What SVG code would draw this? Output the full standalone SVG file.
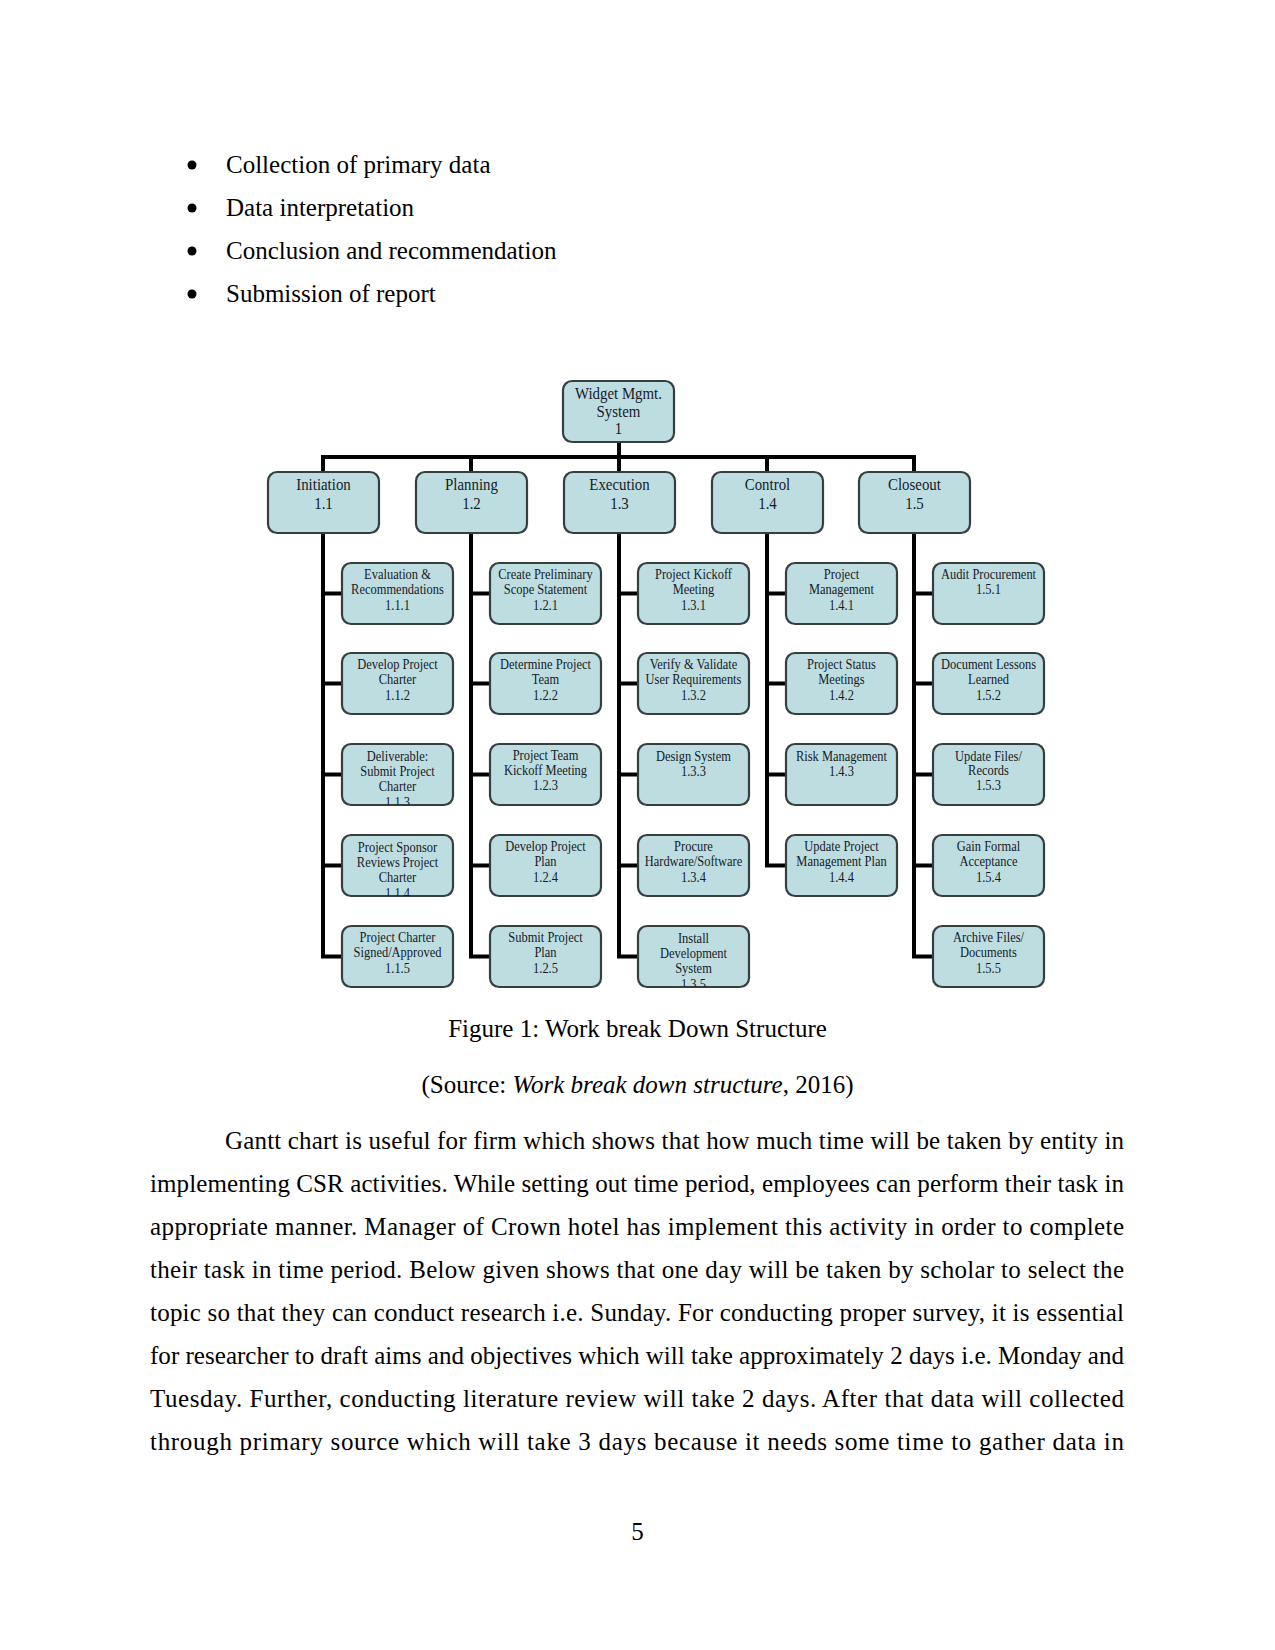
<svg xmlns="http://www.w3.org/2000/svg" width="1275" height="1650" viewBox="0 0 1275 1650">
<style>
.page{font-family:"Liberation Serif","Times New Roman",serif;font-size:25px;fill:#000}
.box{fill:#bddde1;stroke:#363f40;stroke-width:2.2}
.t1{font-family:"Liberation Serif","Times New Roman",serif;font-size:17.5px;fill:#161a26;text-anchor:middle}
.t2{font-family:"Liberation Serif","Times New Roman",serif;font-size:14.5px;fill:#161a26;text-anchor:middle}
.conn{fill:none;stroke:#000;stroke-width:4;stroke-linejoin:miter;stroke-linecap:square}
</style>
<defs>
<clipPath id="c113"><rect x="342" y="744" width="111" height="61" rx="9"/></clipPath>
<clipPath id="c114"><rect x="342" y="835" width="111" height="61" rx="9"/></clipPath>
<clipPath id="c135"><rect x="638" y="926" width="111" height="61" rx="9"/></clipPath>
</defs>
<rect width="1275" height="1650" fill="#fff"/>

<g id="bullets" class="page">
<circle cx="192" cy="165" r="4.5"/><text x="226" y="173">Collection of primary data</text>
<circle cx="192" cy="208" r="4.5"/><text x="226" y="216">Data interpretation</text>
<circle cx="192" cy="251" r="4.5"/><text x="226" y="259">Conclusion and recommendation</text>
<circle cx="192" cy="294" r="4.5"/><text x="226" y="302">Submission of report</text>
</g>

<g id="connectors" class="conn">
<path d="M619 442 V457 M323 472 V457 H914 V472 M471 457 V472 M619 457 V472 M767 457 V472"/>
<path d="M323 533 V956.5 H342 M323 593.5 H342 M323 683.5 H342 M323 774.5 H342 M323 865.5 H342"/>
<path d="M471 533 V956.5 H490 M471 593.5 H490 M471 683.5 H490 M471 774.5 H490 M471 865.5 H490"/>
<path d="M619 533 V956.5 H638 M619 593.5 H638 M619 683.5 H638 M619 774.5 H638 M619 865.5 H638"/>
<path d="M767 533 V865.5 H786 M767 593.5 H786 M767 683.5 H786 M767 774.5 H786"/>
<path d="M914 533 V956.5 H933 M914 593.5 H933 M914 683.5 H933 M914 774.5 H933 M914 865.5 H933"/>
</g>

<g id="n1"><rect class="box" x="563" y="381" width="111" height="61" rx="9"/>
<g transform="matrix(0.85 0 0 1 92.775 0)"><text class="t1" x="618.5" y="399">Widget Mgmt.</text><text class="t1" x="618.5" y="417">System</text><text class="t1" x="618.5" y="434">1</text></g></g>

<g id="n1_1"><rect class="box" x="268" y="472" width="111" height="61" rx="9"/><g transform="matrix(0.85 0 0 1 48.525 0)"><text class="t1" x="323.5" y="490">Initiation</text><text class="t1" x="323.5" y="509">1.1</text></g></g>
<g id="n1_2"><rect class="box" x="416" y="472" width="111" height="61" rx="9"/><g transform="matrix(0.85 0 0 1 70.725 0)"><text class="t1" x="471.5" y="490">Planning</text><text class="t1" x="471.5" y="509">1.2</text></g></g>
<g id="n1_3"><rect class="box" x="564" y="472" width="111" height="61" rx="9"/><g transform="matrix(0.85 0 0 1 92.925 0)"><text class="t1" x="619.5" y="490">Execution</text><text class="t1" x="619.5" y="509">1.3</text></g></g>
<g id="n1_4"><rect class="box" x="712" y="472" width="111" height="61" rx="9"/><g transform="matrix(0.85 0 0 1 115.125 0)"><text class="t1" x="767.5" y="490">Control</text><text class="t1" x="767.5" y="509">1.4</text></g></g>
<g id="n1_5"><rect class="box" x="859" y="472" width="111" height="61" rx="9"/><g transform="matrix(0.85 0 0 1 137.175 0)"><text class="t1" x="914.5" y="490">Closeout</text><text class="t1" x="914.5" y="509">1.5</text></g></g>

<g id="n1_1_1"><rect class="box" x="342" y="563" width="111" height="61" rx="9"/><g transform="matrix(0.86 0 0 1 55.65 0)"><text class="t2" x="397.5" y="579">Evaluation &amp;</text><text class="t2" x="397.5" y="594.5">Recommendations</text><text class="t2" x="397.5" y="610">1.1.1</text></g></g>
<g id="n1_1_2"><rect class="box" x="342" y="653" width="111" height="61" rx="9"/><g transform="matrix(0.86 0 0 1 55.65 0)"><text class="t2" x="397.5" y="669">Develop Project</text><text class="t2" x="397.5" y="684.5">Charter</text><text class="t2" x="397.5" y="700">1.1.2</text></g></g>
<g id="n1_1_3"><rect class="box" x="342" y="744" width="111" height="61" rx="9"/><g clip-path="url(#c113)"><g transform="matrix(0.86 0 0 1 55.65 0)"><text class="t2" x="397.5" y="761">Deliverable:</text><text class="t2" x="397.5" y="776">Submit Project</text><text class="t2" x="397.5" y="791">Charter</text><text class="t2" x="397.5" y="807">1.1.3</text></g></g></g>
<g id="n1_1_4"><rect class="box" x="342" y="835" width="111" height="61" rx="9"/><g clip-path="url(#c114)"><g transform="matrix(0.86 0 0 1 55.65 0)"><text class="t2" x="397.5" y="852">Project Sponsor</text><text class="t2" x="397.5" y="867">Reviews Project</text><text class="t2" x="397.5" y="882">Charter</text><text class="t2" x="397.5" y="898">1.1.4</text></g></g></g>
<g id="n1_1_5"><rect class="box" x="342" y="926" width="111" height="61" rx="9"/><g transform="matrix(0.86 0 0 1 55.65 0)"><text class="t2" x="397.5" y="942">Project Charter</text><text class="t2" x="397.5" y="957.5">Signed/Approved</text><text class="t2" x="397.5" y="973">1.1.5</text></g></g>

<g id="n1_2_1"><rect class="box" x="490" y="563" width="111" height="61" rx="9"/><g transform="matrix(0.86 0 0 1 76.37 0)"><text class="t2" x="545.5" y="579">Create Preliminary</text><text class="t2" x="545.5" y="594.5">Scope Statement</text><text class="t2" x="545.5" y="610">1.2.1</text></g></g>
<g id="n1_2_2"><rect class="box" x="490" y="653" width="111" height="61" rx="9"/><g transform="matrix(0.86 0 0 1 76.37 0)"><text class="t2" x="545.5" y="669">Determine Project</text><text class="t2" x="545.5" y="684.5">Team</text><text class="t2" x="545.5" y="700">1.2.2</text></g></g>
<g id="n1_2_3"><rect class="box" x="490" y="744" width="111" height="61" rx="9"/><g transform="matrix(0.86 0 0 1 76.37 0)"><text class="t2" x="545.5" y="760">Project Team</text><text class="t2" x="545.5" y="775">Kickoff Meeting</text><text class="t2" x="545.5" y="790.5">1.2.3</text></g></g>
<g id="n1_2_4"><rect class="box" x="490" y="835" width="111" height="61" rx="9"/><g transform="matrix(0.86 0 0 1 76.37 0)"><text class="t2" x="545.5" y="851">Develop Project</text><text class="t2" x="545.5" y="866.5">Plan</text><text class="t2" x="545.5" y="882">1.2.4</text></g></g>
<g id="n1_2_5"><rect class="box" x="490" y="926" width="111" height="61" rx="9"/><g transform="matrix(0.86 0 0 1 76.37 0)"><text class="t2" x="545.5" y="942">Submit Project</text><text class="t2" x="545.5" y="957.5">Plan</text><text class="t2" x="545.5" y="973">1.2.5</text></g></g>

<g id="n1_3_1"><rect class="box" x="638" y="563" width="111" height="61" rx="9"/><g transform="matrix(0.86 0 0 1 97.09 0)"><text class="t2" x="693.5" y="579">Project Kickoff</text><text class="t2" x="693.5" y="594.5">Meeting</text><text class="t2" x="693.5" y="610">1.3.1</text></g></g>
<g id="n1_3_2"><rect class="box" x="638" y="653" width="111" height="61" rx="9"/><g transform="matrix(0.86 0 0 1 97.09 0)"><text class="t2" x="693.5" y="669">Verify &amp; Validate</text><text class="t2" x="693.5" y="684.5">User Requirements</text><text class="t2" x="693.5" y="700">1.3.2</text></g></g>
<g id="n1_3_3"><rect class="box" x="638" y="744" width="111" height="61" rx="9"/><g transform="matrix(0.86 0 0 1 97.09 0)"><text class="t2" x="693.5" y="761">Design System</text><text class="t2" x="693.5" y="776.5">1.3.3</text></g></g>
<g id="n1_3_4"><rect class="box" x="638" y="835" width="111" height="61" rx="9"/><g transform="matrix(0.86 0 0 1 97.09 0)"><text class="t2" x="693.5" y="851">Procure</text><text class="t2" x="693.5" y="866.5">Hardware/Software</text><text class="t2" x="693.5" y="882">1.3.4</text></g></g>
<g id="n1_3_5"><rect class="box" x="638" y="926" width="111" height="61" rx="9"/><g clip-path="url(#c135)"><g transform="matrix(0.86 0 0 1 97.09 0)"><text class="t2" x="693.5" y="943">Install</text><text class="t2" x="693.5" y="958">Development</text><text class="t2" x="693.5" y="973">System</text><text class="t2" x="693.5" y="989">1.3.5</text></g></g></g>

<g id="n1_4_1"><rect class="box" x="786" y="563" width="111" height="61" rx="9"/><g transform="matrix(0.86 0 0 1 117.81 0)"><text class="t2" x="841.5" y="579">Project</text><text class="t2" x="841.5" y="594.5">Management</text><text class="t2" x="841.5" y="610">1.4.1</text></g></g>
<g id="n1_4_2"><rect class="box" x="786" y="653" width="111" height="61" rx="9"/><g transform="matrix(0.86 0 0 1 117.81 0)"><text class="t2" x="841.5" y="669">Project Status</text><text class="t2" x="841.5" y="684.5">Meetings</text><text class="t2" x="841.5" y="700">1.4.2</text></g></g>
<g id="n1_4_3"><rect class="box" x="786" y="744" width="111" height="61" rx="9"/><g transform="matrix(0.86 0 0 1 117.81 0)"><text class="t2" x="841.5" y="761">Risk Management</text><text class="t2" x="841.5" y="776.5">1.4.3</text></g></g>
<g id="n1_4_4"><rect class="box" x="786" y="835" width="111" height="61" rx="9"/><g transform="matrix(0.86 0 0 1 117.81 0)"><text class="t2" x="841.5" y="851">Update Project</text><text class="t2" x="841.5" y="866.5">Management Plan</text><text class="t2" x="841.5" y="882">1.4.4</text></g></g>

<g id="n1_5_1"><rect class="box" x="933" y="563" width="111" height="61" rx="9"/><g transform="matrix(0.86 0 0 1 138.39 0)"><text class="t2" x="988.5" y="579">Audit Procurement</text><text class="t2" x="988.5" y="594.5">1.5.1</text></g></g>
<g id="n1_5_2"><rect class="box" x="933" y="653" width="111" height="61" rx="9"/><g transform="matrix(0.86 0 0 1 138.39 0)"><text class="t2" x="988.5" y="669">Document Lessons</text><text class="t2" x="988.5" y="684.5">Learned</text><text class="t2" x="988.5" y="700">1.5.2</text></g></g>
<g id="n1_5_3"><rect class="box" x="933" y="744" width="111" height="61" rx="9"/><g transform="matrix(0.86 0 0 1 138.39 0)"><text class="t2" x="988.5" y="761">Update Files/</text><text class="t2" x="988.5" y="775">Records</text><text class="t2" x="988.5" y="790">1.5.3</text></g></g>
<g id="n1_5_4"><rect class="box" x="933" y="835" width="111" height="61" rx="9"/><g transform="matrix(0.86 0 0 1 138.39 0)"><text class="t2" x="988.5" y="851">Gain Formal</text><text class="t2" x="988.5" y="866.5">Acceptance</text><text class="t2" x="988.5" y="882">1.5.4</text></g></g>
<g id="n1_5_5"><rect class="box" x="933" y="926" width="111" height="61" rx="9"/><g transform="matrix(0.86 0 0 1 138.39 0)"><text class="t2" x="988.5" y="942">Archive Files/</text><text class="t2" x="988.5" y="957.5">Documents</text><text class="t2" x="988.5" y="973">1.5.5</text></g></g>

<g id="caption" class="page" text-anchor="middle">
<text x="637.5" y="1037">Figure 1: Work break Down Structure</text>
<text x="637.5" y="1093">(Source: <tspan font-style="italic">Work break down structure</tspan>, 2016)</text>
</g>

<g id="paragraph" class="page">
<text x="225" y="1149" textLength="899" lengthAdjust="spacing">Gantt chart is useful for firm which shows that how much time will be taken by entity in</text>
<text x="150" y="1192" textLength="974" lengthAdjust="spacing">implementing CSR activities. While setting out time period, employees can perform their task in</text>
<text x="150" y="1235" textLength="974" lengthAdjust="spacing">appropriate manner. Manager of Crown hotel has implement this activity in order to complete</text>
<text x="150" y="1278" textLength="974" lengthAdjust="spacing">their task in time period. Below given shows that one day will be taken by scholar to select the</text>
<text x="150" y="1321" textLength="974" lengthAdjust="spacing">topic so that they can conduct research i.e. Sunday. For conducting proper survey, it is essential</text>
<text x="150" y="1364" textLength="974" lengthAdjust="spacing">for researcher to draft aims and objectives which will take approximately 2 days i.e. Monday and</text>
<text x="150" y="1407" textLength="974" lengthAdjust="spacing">Tuesday. Further, conducting literature review will take 2 days. After that data will collected</text>
<text x="150" y="1450" textLength="974" lengthAdjust="spacing">through primary source which will take 3 days because it needs some time to gather data in</text>
</g>

<text id="pagenum" class="page" x="637.5" y="1540" text-anchor="middle">5</text>
</svg>
